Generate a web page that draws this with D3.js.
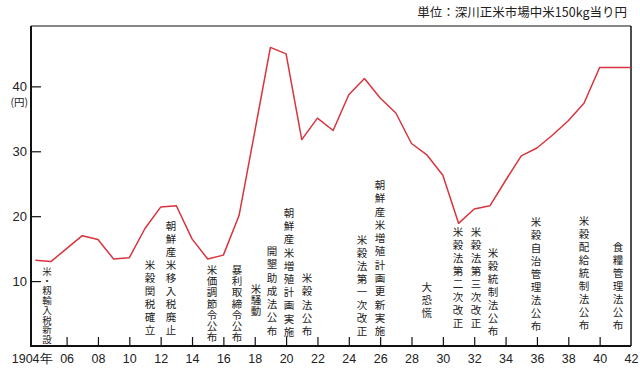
<!DOCTYPE html>
<html><head><meta charset="utf-8">
<script src="https://cdn.jsdelivr.net/npm/d3@7"></script>
<style>
body{margin:0;background:#fff;}
svg{display:block;}
</style></head><body>
<svg id="c" width="640" height="369"></svg>
<script>
// ---- data ----
const years = [1904,1905,1906,1907,1908,1909,1910,1911,1912,1913,1914,1915,1916,1917,1918,1919,1920,1921,1922,1923,1924,1925,1926,1927,1928,1929,1930,1931,1932,1933,1934,1935,1936,1937,1938,1939,1940,1941,1942];
const prices = [13.2,13.0,15.0,17.0,16.4,13.4,13.6,18.1,21.4,21.6,16.5,13.4,14.0,20.1,33.0,46.0,45.0,31.8,35.1,33.2,38.7,41.2,38.2,35.9,31.2,29.4,26.3,18.9,21.1,21.6,25.5,29.3,30.5,32.5,34.7,37.4,42.9,42.9,42.9];
const xTickYears = [1904,1906,1908,1910,1912,1914,1916,1918,1920,1922,1924,1926,1928,1930,1932,1934,1936,1938,1940,1942];
const xTickLabels = ["1904年","06","08","10","12","14","16","18","20","22","24","26","28","30","32","34","36","38","40","42"];
const yTicks = [10,20,30,40];
const yTickLabels = ["10","20","30","40"];
const unitLabel = "単位：深川正米市場中米150kg当り円";
const yUnit = "(円)";
const annotTexts = ["米・籾輸入税新設","米穀関税確立","朝鮮産米移入税廃止","米価調節令公布","暴利取締令公布","米騒動","開墾助成法公布","朝鮮産米増殖計画実施","米穀法公布","米穀法第一次改正","朝鮮産米増殖計画更新実施","大恐慌","米穀法第二次改正","米穀法第三次改正","米穀統制法公布","米穀自治管理法公布","米穀配給統制法公布","食糧管理法公布"];
const annotYears = [1904.75,1911.32,1912.66,1915.27,1916.87,1918.08,1919.1,1920.18,1921.33,1924.84,1925.99,1928.98,1930.96,1932.11,1933.19,1935.94,1939.0,1941.17];

// ---- layout (pixels) ----
const annotTop   = [271,265,226,270,270,289,251,213,278,240,185,287,232,232,253,222,221,247];
const annotPitch = [9.8,13,13,11.2,11.2,11.2,13.3,13.2,13.3,13,13.3,13,13,13,13,13,13,13];
const annotSize  = [9.5,10.5,10.5,10.5,10.5,10.5,10.5,10.5,10.5,10.5,10.5,10.5,10.5,10.5,10.5,10.5,10.5,10.5];

const L=31, R=631, T=26, B=346;
const svg = d3.select("#c");
const x = d3.scaleLinear().domain([1903.73,1942]).range([L,R]);
const y = d3.scaleLinear().domain([0,49.3]).range([B,T]);
const latin = "'Liberation Sans', Arial, sans-serif";
const cjk = "'Noto Sans CJK JP', sans-serif";

// x axis
const xa = svg.append("g").attr("transform",`translate(0,${B})`)
  .call(d3.axisBottom(x).tickValues(xTickYears)
    .tickFormat((d,i)=>xTickLabels[i]).tickSizeInner(-9).tickSizeOuter(0).tickPadding(8));
xa.select(".domain").remove();
xa.selectAll(".tick line").attr("stroke","#111").attr("stroke-width",1.2);
xa.selectAll(".tick text").attr("font-family",latin).attr("font-size",12.5).attr("fill","#222");
xa.selectAll(".tick").filter(d=>d===1904||d===1942).select("line").remove();
xa.selectAll(".tick").filter(d=>d===1904).select("text").attr("x",-3.6);

// y axis
const ya = svg.append("g").attr("transform",`translate(${L},0)`)
  .call(d3.axisLeft(y).tickValues(yTicks).tickFormat((d,i)=>yTickLabels[i])
    .tickSizeInner(-10).tickSizeOuter(0).tickPadding(4));
ya.select(".domain").remove();
ya.selectAll(".tick line").attr("stroke","#111").attr("stroke-width",1.2);
ya.selectAll(".tick text").attr("font-family",latin).attr("font-size",13).attr("fill","#222");

svg.append("text").attr("x",L-3).attr("y",y(40)+20).attr("text-anchor","end")
  .attr("font-family",cjk).attr("font-size",10.5).attr("fill","#222").text(yUnit);

// frame
svg.append("line").attr("x1",L).attr("x2",R).attr("y1",T).attr("y2",T).attr("stroke","#111").attr("stroke-width",1.2);
svg.append("line").attr("x1",R).attr("x2",R).attr("y1",T).attr("y2",B).attr("stroke","#111").attr("stroke-width",1.5);
svg.append("line").attr("x1",L).attr("x2",L).attr("y1",T).attr("y2",B+1).attr("stroke","#111").attr("stroke-width",2);
svg.append("line").attr("x1",L).attr("x2",R).attr("y1",B).attr("y2",B).attr("stroke","#111").attr("stroke-width",2);

// unit label
svg.append("text").attr("x",627).attr("y",17).attr("text-anchor","end")
  .attr("font-family",cjk).attr("font-size",12.5).attr("fill","#222").text(unitLabel);

// price line
svg.append("path").datum(years.map((yr,i)=>[yr,prices[i]]))
  .attr("fill","none").attr("stroke","#d8343e").attr("stroke-width",1.5)
  .attr("stroke-linejoin","round")
  .attr("d",d3.line().x(d=>x(d[0])).y(d=>y(d[1])));

// annotations (vertical text, one element per column)
annotTexts.forEach((t,i)=>{
  const fs = annotSize[i];
  svg.append("text")
    .attr("x",x(annotYears[i])).attr("y",annotTop[i]-fs/2)
    .style("writing-mode","vertical-rl").style("text-orientation","upright")
    .style("letter-spacing",(annotPitch[i]-fs)+"px")
    .attr("font-family",cjk).attr("font-size",fs).attr("fill","#222").text(t);
});
</script>
</body></html>
